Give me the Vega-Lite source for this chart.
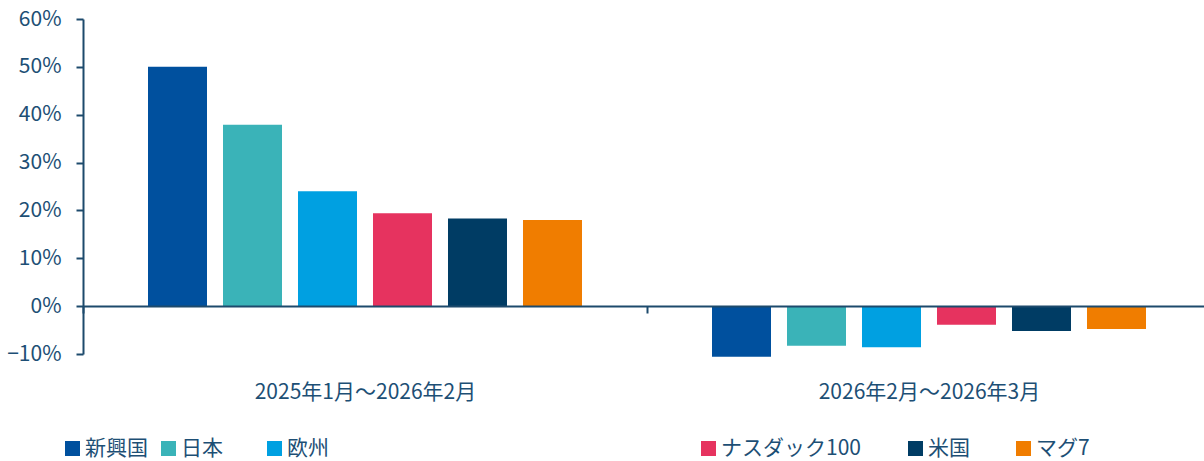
{
  "$schema": "https://vega.github.io/schema/vega-lite/v6.json",
  "width": 1121,
  "height": 335,
  "autosize": {"type": "none"},
  "padding": {"left": 83, "top": 19, "right": 0, "bottom": 107},
  "background": "white",
  "config": {
    "view": {"stroke": null},
    "font": "Noto Sans CJK JP",
    "legend": {"padding": 0}
  },
  "data": {
    "values": [
      {"period": "2025年1月～2026年2月", "series": "新興国", "value": 0.500},
      {"period": "2025年1月～2026年2月", "series": "日本", "value": 0.379},
      {"period": "2025年1月～2026年2月", "series": "欧州", "value": 0.240},
      {"period": "2025年1月～2026年2月", "series": "ナスダック100", "value": 0.194},
      {"period": "2025年1月～2026年2月", "series": "米国", "value": 0.183},
      {"period": "2025年1月～2026年2月", "series": "マグ7", "value": 0.180},
      {"period": "2026年2月～2026年3月", "series": "新興国", "value": -0.106},
      {"period": "2026年2月～2026年3月", "series": "日本", "value": -0.083},
      {"period": "2026年2月～2026年3月", "series": "欧州", "value": -0.086},
      {"period": "2026年2月～2026年3月", "series": "ナスダック100", "value": -0.039},
      {"period": "2026年2月～2026年3月", "series": "米国", "value": -0.052},
      {"period": "2026年2月～2026年3月", "series": "マグ7", "value": -0.048}
    ]
  },
  "encoding": {
    "x": {
      "field": "period", "type": "nominal", "sort": null,
      "scale": {"range": [0, 1128], "paddingInner": 0, "paddingOuter": 0},
      "axis": {
        "title": null, "labelAngle": 0, "offset": -48, "zindex": 1,
        "tickBand": "extent", "domainColor": "#1d4a6c", "domainWidth": 2,
        "tickColor": "#1d4a6c", "tickWidth": 2, "tickSize": 7,
        "labelFontSize": 21, "labelColor": "#1d4f75", "labelPadding": 68,
        "labelBaseline": "top", "labelLimit": 0
      }
    },
    "xOffset": {
      "field": "series", "type": "nominal",
      "scale": {"domain": ["新興国", "日本", "欧州", "ナスダック100", "米国", "マグ7"], "paddingInner": 0.2133, "paddingOuter": 0.8667}
    },
    "y": {
      "field": "value", "type": "quantitative",
      "scale": {"domain": [-0.1, 0.6], "nice": false, "zero": false},
      "axis": {
        "title": null, "format": ".0%", "values": [-0.1, 0, 0.1, 0.2, 0.3, 0.4, 0.5, 0.6],
        "grid": false, "domainColor": "#1d4a6c", "domainWidth": 2,
        "tickColor": "#1d4a6c", "tickWidth": 2, "tickSize": 7,
        "labelFontSize": 21, "labelColor": "#1d4f75", "labelPadding": 15
      }
    }
  },
  "layer": [
    {
      "transform": [{"filter": "datum.series === '新興国'"}],
      "mark": {"type": "bar"},
      "encoding": {"color": {"field": "series", "type": "nominal",
        "scale": {"domain": ["新興国"], "range": ["#00509e"]},
        "legend": {"title": null, "orient": "none", "legendX": -21, "legendY": 419, "symbolType": "square", "symbolSize": 225, "symbolStrokeWidth": 0, "labelFontSize": 21, "labelColor": "#1d4f75", "labelOffset": 2}}}
    },
    {
      "transform": [{"filter": "datum.series === '日本'"}],
      "mark": {"type": "bar"},
      "encoding": {"color": {"field": "series", "type": "nominal",
        "scale": {"domain": ["日本"], "range": ["#3ab3b8"]},
        "legend": {"title": null, "orient": "none", "legendX": 75, "legendY": 419, "symbolType": "square", "symbolSize": 225, "symbolStrokeWidth": 0, "labelFontSize": 21, "labelColor": "#1d4f75", "labelOffset": 2}}}
    },
    {
      "transform": [{"filter": "datum.series === '欧州'"}],
      "mark": {"type": "bar"},
      "encoding": {"color": {"field": "series", "type": "nominal",
        "scale": {"domain": ["欧州"], "range": ["#00a0e1"]},
        "legend": {"title": null, "orient": "none", "legendX": 181, "legendY": 419, "symbolType": "square", "symbolSize": 225, "symbolStrokeWidth": 0, "labelFontSize": 21, "labelColor": "#1d4f75", "labelOffset": 2}}}
    },
    {
      "transform": [{"filter": "datum.series === 'ナスダック100'"}],
      "mark": {"type": "bar"},
      "encoding": {"color": {"field": "series", "type": "nominal",
        "scale": {"domain": ["ナスダック100"], "range": ["#e6335f"]},
        "legend": {"title": null, "orient": "none", "legendX": 615, "legendY": 419, "symbolType": "square", "symbolSize": 225, "symbolStrokeWidth": 0, "labelFontSize": 21, "labelColor": "#1d4f75", "labelOffset": 2}}}
    },
    {
      "transform": [{"filter": "datum.series === '米国'"}],
      "mark": {"type": "bar"},
      "encoding": {"color": {"field": "series", "type": "nominal",
        "scale": {"domain": ["米国"], "range": ["#003c64"]},
        "legend": {"title": null, "orient": "none", "legendX": 822, "legendY": 419, "symbolType": "square", "symbolSize": 225, "symbolStrokeWidth": 0, "labelFontSize": 21, "labelColor": "#1d4f75", "labelOffset": 2}}}
    },
    {
      "transform": [{"filter": "datum.series === 'マグ7'"}],
      "mark": {"type": "bar"},
      "encoding": {"color": {"field": "series", "type": "nominal",
        "scale": {"domain": ["マグ7"], "range": ["#f07d00"]},
        "legend": {"title": null, "orient": "none", "legendX": 930, "legendY": 419, "symbolType": "square", "symbolSize": 225, "symbolStrokeWidth": 0, "labelFontSize": 21, "labelColor": "#1d4f75", "labelOffset": 2}}}
    }
  ],
  "resolve": {"scale": {"color": "independent"}, "legend": {"color": "independent"}}
}
